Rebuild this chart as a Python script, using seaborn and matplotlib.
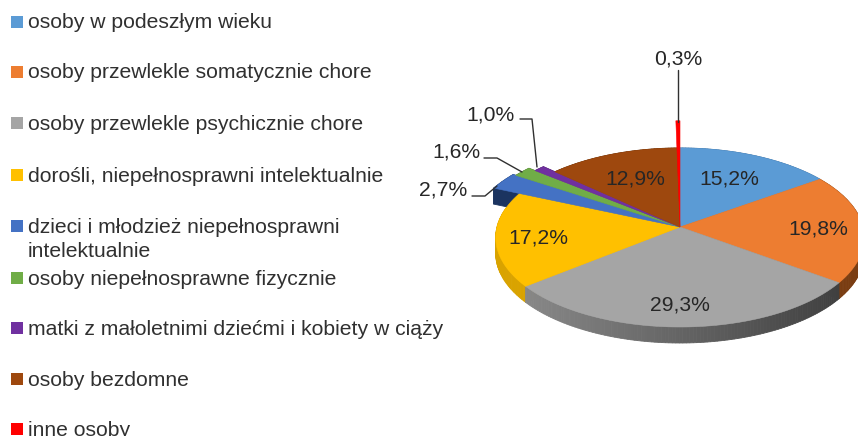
import numpy as np
import matplotlib
matplotlib.use("Agg")
import matplotlib.pyplot as plt
import seaborn as sns

categories = ["osoby w podeszłym wieku", "osoby przewlekle somatycznie chore",
              "osoby przewlekle psychicznie chore", "dorośli, niepełnosprawni intelektualnie",
              "dzieci i młodzież niepełnosprawni\nintelektualnie", "osoby niepełnosprawne fizycznie",
              "matki z małoletnimi dziećmi i kobiety w ciąży", "osoby bezdomne", "inne osoby"]
values = [15.2, 19.8, 29.3, 17.2, 2.7, 1.6, 1.0, 12.9, 0.3]
colors = ["#5b9bd5", "#ed7d31", "#a5a5a5", "#ffc000", "#4472c4", "#70ad47", "#7030a0", "#9e480e", "#ff0000"]
side_colors = ["#3f6f9c", "#7a3d12", "#6a6a6a", "#d9a300", "#1b3460", "#466c2c", "#43205f", "#5f2c08", "#990000"]
radii = [1.0, 1.0, 1.0, 1.0, 1.17, 1.15, 1.1, 1.0, 1.4]

legend_y = [22, 72, 123, 175, 226, 278, 328, 379, 429]
label_xy = [(729, 179), (818, 229), (680, 305), (538, 238), (443, 190), (456, 152), (490, 115), (635, 179), (678, 59)]
leaders = [None, None, None, None,
           [(472, 196), (485, 196), (497, 186)],
           [(484, 158), (497, 158), (522, 172)],
           [(520, 119), (532, 119), (537, 167)],
           None,
           [(678, 70), (678, 122)]]

CX, CY, RX, RY, K, DEPTH = 680, 227, 183, 88.3, 0.117, 16


def project(theta, r):
    u, v = r * np.sin(theta), r * np.cos(theta)
    w = 1 + K * v
    return CX + RX * u / w, CY - RY * v / w


sns.set_theme(style="white")
plt.rcParams["font.family"] = ["Liberation Sans", "DejaVu Sans"]
fig = plt.figure(figsize=(8.58, 4.36), dpi=100, facecolor="white")
ax = fig.add_axes([0, 0, 1, 1])
ax.set_xlim(0, 858)
ax.set_ylim(436, 0)
ax.axis("off")

edges = np.cumsum([0] + values) / sum(values) * 2 * np.pi
outlines = []
for i in range(len(values)):
    n = max(4, int((edges[i + 1] - edges[i]) * 60))
    t = np.linspace(edges[i], edges[i + 1], n)
    x, y = project(t, radii[i])
    outlines.append((np.r_[CX, x], np.r_[CY, y]))

# side walls, back to front
quads = []
for i, (x, y) in enumerate(outlines):
    if i == 8:
        continue
    xc, yc = np.r_[x, x[0]], np.r_[y, y[0]]
    for j in range(len(xc) - 1):
        quads.append(((yc[j] + yc[j + 1]) / 2, i, xc[j], xc[j + 1], yc[j], yc[j + 1]))
quads.sort(key=lambda q: q[0])
for _, i, x0, x1, y0, y1 in quads:
    c = side_colors[i]
    if i == 2:
        f = np.clip(((x0 + x1) / 2 - 525) / (838 - 525), 0, 1)
        g = (0x88 + (0x40 - 0x88) * f) / 255
        c = (g, g, g)
    ax.fill([x0, x1, x1, x0], [y0, y1, y1 + DEPTH, y0 + DEPTH], color=c, lw=0.6)

# top faces
for i, (x, y) in enumerate(outlines):
    ax.fill(x, y, color=colors[i], lw=0.4, zorder=3)

# leaders and labels
for i, v in enumerate(values):
    txt = f"{v:.1f}%".replace(".", ",")
    ax.text(*label_xy[i], txt, ha="center", va="center", fontsize=15.2, color="#262626", zorder=5)
    if leaders[i]:
        ax.plot(*zip(*leaders[i]), color="#303030", lw=1.0, zorder=4)

# legend
sns.scatterplot(x=[17] * len(categories), y=legend_y, hue=categories, palette=colors, marker="s",
                s=70, linewidth=0, legend=False, ax=ax, zorder=6)
for cat, yy in zip(categories, legend_y):
    lines = cat.split("\n")
    for k, line in enumerate(lines):
        ax.text(28, yy + 1 + k * 24, line, ha="left", va="center", fontsize=15.2, color="#303030", zorder=6)

ax.set_xlim(0, 858)
ax.set_ylim(436, 0)
fig.savefig("out.png", dpi=100, facecolor="white")
